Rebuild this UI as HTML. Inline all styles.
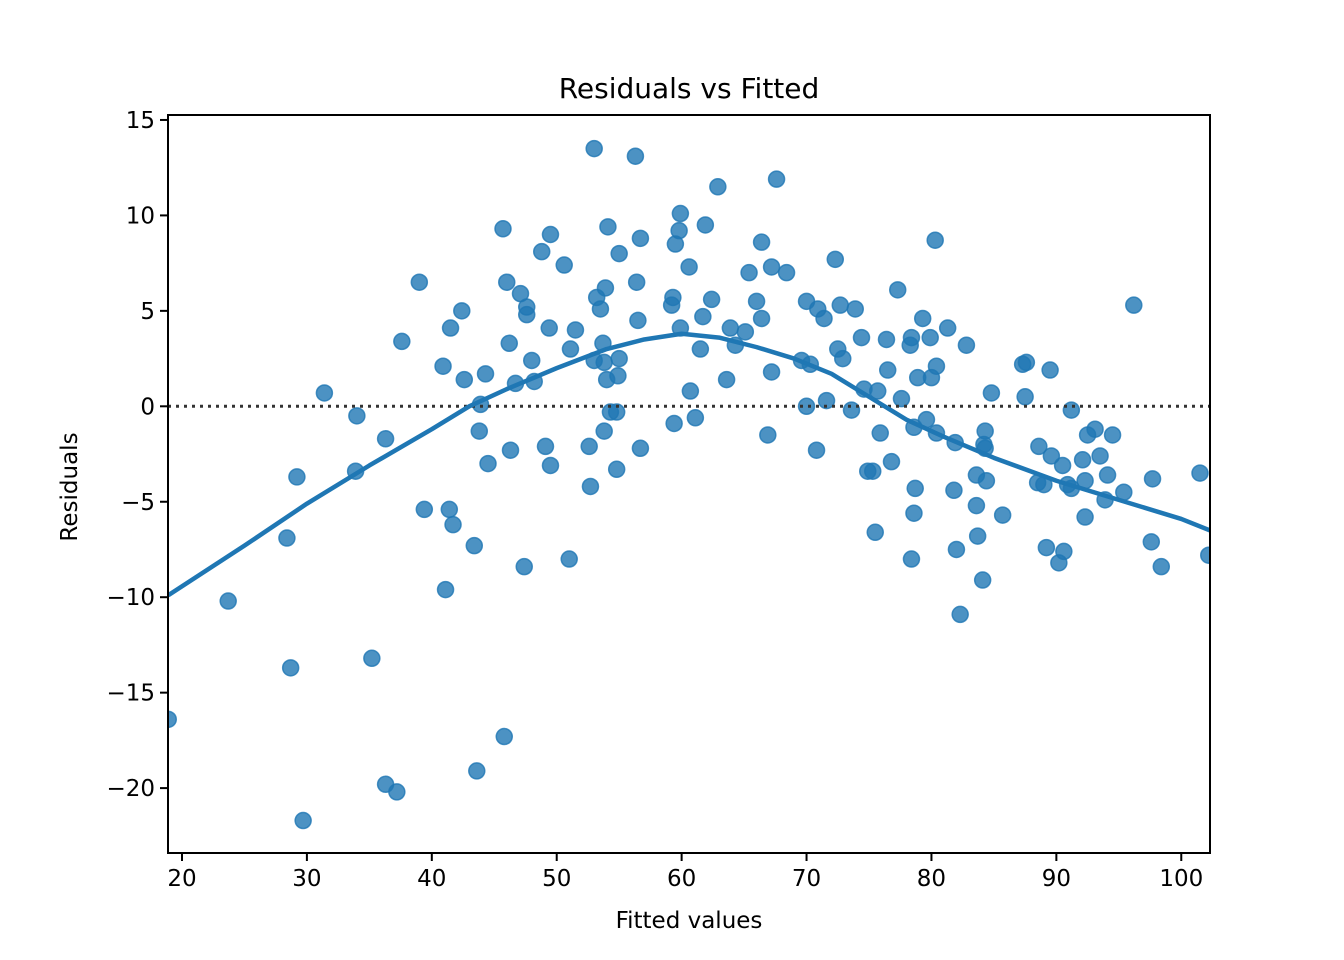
<!DOCTYPE html>
<html><head><meta charset="utf-8"><style>
html,body{margin:0;padding:0;background:#fff;}
svg{display:block;font-family:"DejaVu Sans","Liberation Sans",sans-serif;}
</style></head><body>
<svg id="chart" width="1344" height="960" viewBox="0 0 1344 960" xmlns="http://www.w3.org/2000/svg">
<rect width="1344" height="960" fill="#fff"/>
<text x="689" y="98" text-anchor="middle" font-size="28">Residuals vs Fitted</text>
<text x="689" y="928" text-anchor="middle" font-size="23">Fitted values</text>
<text transform="translate(77,487) rotate(-90)" text-anchor="middle" font-size="23">Residuals</text>
<g id="plot"></g>
</svg>
<script>
const fitted = [18.9,23.7,28.4,28.7,29.2,29.7,31.4,33.9,34.0,35.2,36.3,36.3,37.2,37.6,39.0,39.4,40.9,41.1,41.4,41.5,41.7,42.4,42.6,43.4,43.6,43.8,43.9,44.3,44.5,45.7,45.8,46.0,46.2,46.3,46.7,47.1,47.4,47.6,47.6,48.0,48.2,48.8,49.1,49.4,49.5,49.5,50.6,51.0,51.1,51.5,52.6,52.7,53.0,53.0,53.2,53.5,53.7,53.8,53.8,53.9,54.0,54.1,54.3,54.8,54.8,54.9,55.0,55.0,56.3,56.4,56.5,56.7,56.7,59.2,59.3,59.4,59.5,59.8,59.9,59.9,60.6,60.7,61.1,61.5,61.7,61.9,62.4,62.9,63.6,63.9,64.3,65.1,65.4,66.0,66.4,66.4,66.9,67.2,67.2,67.6,68.4,69.6,70.0,70.0,70.3,70.8,70.9,71.4,71.6,72.3,72.5,72.7,72.9,73.6,73.9,74.4,74.6,74.9,75.3,75.5,75.7,75.9,76.4,76.5,76.8,77.3,77.6,78.3,78.4,78.4,78.6,78.6,78.7,78.9,79.3,79.6,79.9,80.0,80.3,80.4,80.4,81.3,81.8,81.9,82.0,82.3,82.8,83.6,83.6,83.7,84.1,84.2,84.3,84.3,84.4,84.8,85.7,87.3,87.6,87.5,88.5,88.6,89.0,89.2,89.5,89.6,90.2,90.5,90.6,90.9,91.2,91.2,92.1,92.3,92.3,92.5,93.1,93.5,93.9,94.1,94.5,95.4,96.2,97.6,97.7,98.4,101.5,102.2];
const residuals = [-16.4,-10.2,-6.9,-13.7,-3.7,-21.7,0.7,-3.4,-0.5,-13.2,-1.7,-19.8,-20.2,3.4,6.5,-5.4,2.1,-9.6,-5.4,4.1,-6.2,5.0,1.4,-7.3,-19.1,-1.3,0.1,1.7,-3.0,9.3,-17.3,6.5,3.3,-2.3,1.2,5.9,-8.4,5.2,4.8,2.4,1.3,8.1,-2.1,4.1,9.0,-3.1,7.4,-8.0,3.0,4.0,-2.1,-4.2,13.5,2.4,5.7,5.1,3.3,-1.3,2.3,6.2,1.4,9.4,-0.3,-0.3,-3.3,1.6,2.5,8.0,13.1,6.5,4.5,-2.2,8.8,5.3,5.7,-0.9,8.5,9.2,10.1,4.1,7.3,0.8,-0.6,3.0,4.7,9.5,5.6,11.5,1.4,4.1,3.2,3.9,7.0,5.5,4.6,8.6,-1.5,7.3,1.8,11.9,7.0,2.4,5.5,0.0,2.2,-2.3,5.1,4.6,0.3,7.7,3.0,5.3,2.5,-0.2,5.1,3.6,0.9,-3.4,-3.4,-6.6,0.8,-1.4,3.5,1.9,-2.9,6.1,0.4,3.2,3.6,-8.0,-5.6,-1.1,-4.3,1.5,4.6,-0.7,3.6,1.5,8.7,2.1,-1.4,4.1,-4.4,-1.9,-7.5,-10.9,3.2,-3.6,-5.2,-6.8,-9.1,-2.0,-1.3,-2.2,-3.9,0.7,-5.7,2.2,2.3,0.5,-4.0,-2.1,-4.1,-7.4,1.9,-2.6,-8.2,-3.1,-7.6,-4.1,-0.2,-4.3,-2.8,-5.8,-3.9,-1.5,-1.2,-2.6,-4.9,-3.6,-1.5,-4.5,5.3,-7.1,-3.8,-8.4,-3.5,-7.8];
const smoothX = [18.9,25,30,35,40,43,46,50,54,57,60,63,66,69,72,75,78,81,85,90,95,100,102.3];
const smoothY = [-9.9,-7.3,-5.1,-3.1,-1.2,0.0,0.9,2.0,3.0,3.5,3.8,3.6,3.1,2.5,1.7,0.5,-0.7,-1.6,-2.7,-3.9,-4.9,-5.9,-6.5];
const xTicks = [20,30,40,50,60,70,80,90,100];
const yTicks = [15,10,5,0,-5,-10,-15,-20];

const L=168,R=1210,T=115,B=853;
const xMin=18.88,xMax=102.3,yMin=-23.4,yMax=15.26;
const sx=v=>L+(v-xMin)/(xMax-xMin)*(R-L);
const sy=v=>B-(v-yMin)/(yMax-yMin)*(B-T);
const NS="http://www.w3.org/2000/svg";
const g=document.getElementById('plot');
function mk(tag,attrs,parent){const e=document.createElementNS(NS,tag);for(const k in attrs)e.setAttribute(k,attrs[k]);(parent||g).appendChild(e);return e;}

const clip=mk('clipPath',{id:'clip'});
mk('rect',{x:L,y:T,width:R-L,height:B-T},clip);
const pts=mk('g',{'clip-path':'url(#clip)'});


for(let i=0;i<fitted.length;i++){
  const c=mk('circle',{cx:sx(fitted[i]),cy:sy(residuals[i]),r:8,fill:'#1f77b4','fill-opacity':0.8,stroke:'#1f77b4','stroke-opacity':0.8,'stroke-width':1.5},pts);
  
  
}
const zl=mk('line',{x1:L,x2:R,y1:sy(0),y2:sy(0),stroke:'#333','stroke-width':3,'stroke-dasharray':'3,5'});


let d='';
for(let i=0;i<smoothX.length;i++)d+=(i?'L':'M')+sx(smoothX[i])+','+sy(smoothY[i]);
const ln=mk('path',{d:d,fill:'none',stroke:'#1f77b4','stroke-width':4.5,'stroke-linejoin':'round','clip-path':'url(#clip)'});


const fr=mk('rect',{x:L,y:T,width:R-L,height:B-T,fill:'none',stroke:'#000','stroke-width':2});


for(const t of xTicks){
  const x=sx(t);
  const tk=mk('line',{x1:x,x2:x,y1:B,y2:B+8,stroke:'#000','stroke-width':2});
  
  
  const tx=mk('text',{x:x,y:B+33,'text-anchor':'middle','font-size':'23'});
  tx.textContent=t;
  
  
}
for(const t of yTicks){
  const y=sy(t);
  const tk=mk('line',{x1:L-8,x2:L,y1:y,y2:y,stroke:'#000','stroke-width':2});
  
  
  const tx=mk('text',{x:L-13,y:y+8,'text-anchor':'end','font-size':'23'});
  tx.textContent=t<0?'\u2212'+(-t):String(t);
  
  
}
</script>
</body></html>
